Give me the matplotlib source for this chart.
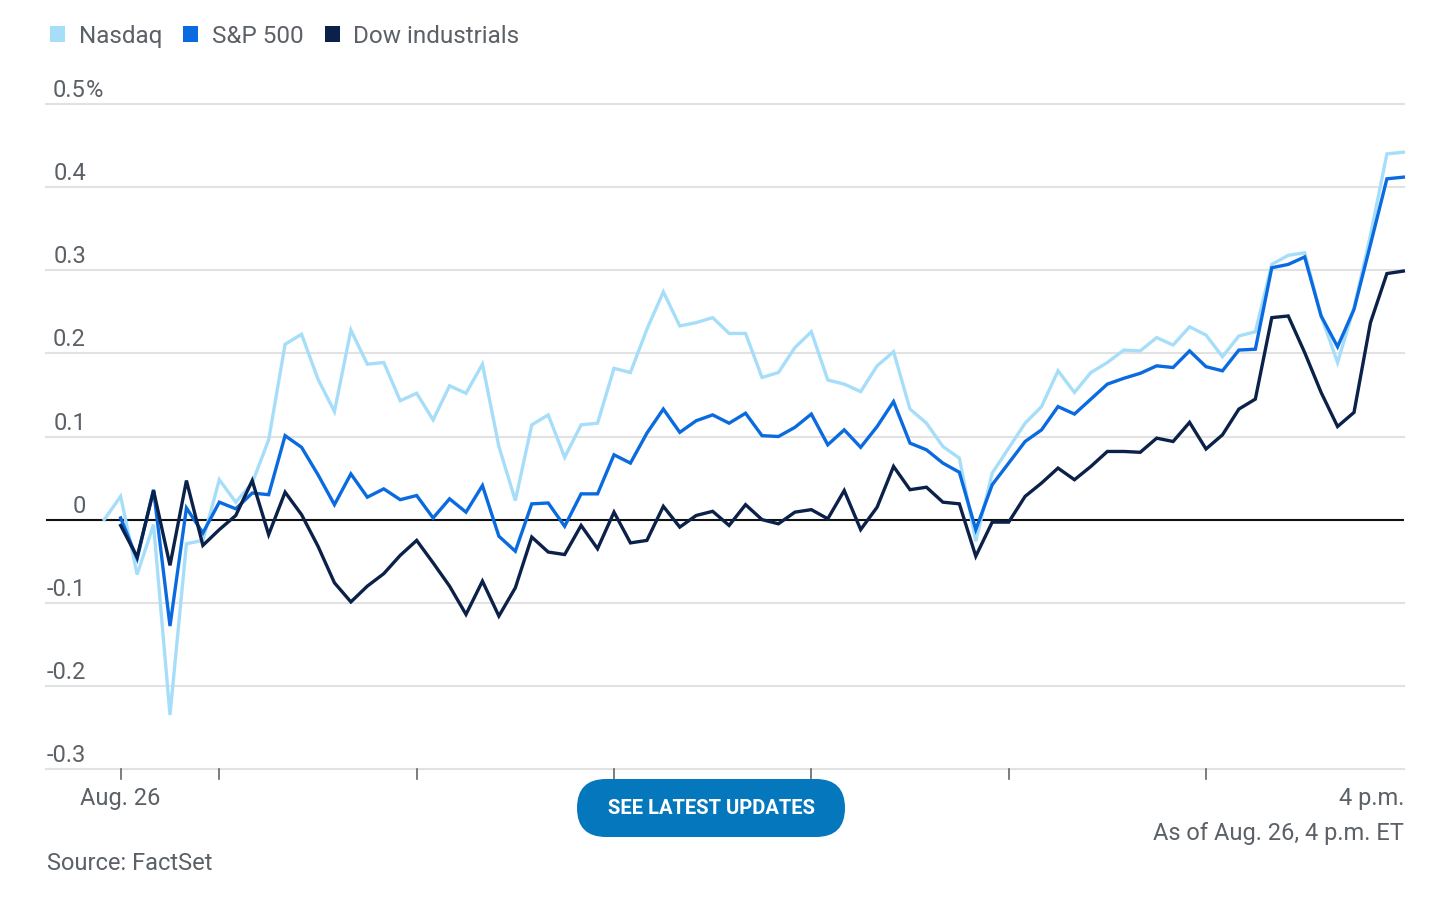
import matplotlib
matplotlib.use("Agg")
import matplotlib.pyplot as plt
from matplotlib.patches import FancyBboxPatch, Rectangle
from matplotlib.transforms import offset_copy
import numpy as np

plt.rcParams['font.family'] = ['Roboto', 'DejaVu Sans']

# ---- data (percent change, 5-minute steps; minute 0 = 9:30 a.m.) ----
nasdaq_minutes = list(range(-5, 391, 5))
nasdaq = [0.000, 0.028, -0.066, -0.006, -0.235, -0.029, -0.025, 0.048, 0.021, 0.044,
          0.096, 0.211, 0.223, 0.169, 0.130, 0.228, 0.187, 0.189, 0.143, 0.152,
          0.120, 0.161, 0.152, 0.187, 0.088, 0.023, 0.114, 0.126, 0.075, 0.114,
          0.116, 0.182, 0.177, 0.229, 0.274, 0.233, 0.237, 0.243, 0.224, 0.224,
          0.171, 0.177, 0.207, 0.226, 0.168, 0.163, 0.154, 0.185, 0.202, 0.133,
          0.116, 0.088, 0.074, -0.026, 0.056, 0.086, 0.116, 0.136, 0.179, 0.153,
          0.177, 0.189, 0.204, 0.203, 0.219, 0.210, 0.232, 0.222, 0.196, 0.221,
          0.226, 0.307, 0.318, 0.321, 0.245, 0.189, 0.255, 0.342, 0.440, 0.442]

minutes = list(range(0, 391, 5))
sp500 = [0.002, -0.047, 0.036, -0.128, 0.014, -0.016, 0.021, 0.013, 0.032, 0.030,
         0.101, 0.087, 0.054, 0.018, 0.055, 0.027, 0.037, 0.024, 0.029, 0.002,
         0.025, 0.009, 0.041, -0.020, -0.038, 0.019, 0.020, -0.008, 0.031, 0.031,
         0.078, 0.068, 0.104, 0.133, 0.105, 0.119, 0.126, 0.116, 0.128, 0.101,
         0.100, 0.111, 0.127, 0.090, 0.108, 0.087, 0.112, 0.142, 0.092, 0.084,
         0.068, 0.057, -0.012, 0.042, 0.068, 0.094, 0.108, 0.136, 0.127, 0.145,
         0.163, 0.170, 0.176, 0.185, 0.183, 0.203, 0.184, 0.179, 0.204, 0.205,
         0.303, 0.307, 0.316, 0.245, 0.208, 0.253, 0.331, 0.410, 0.412]
dow = [-0.007, -0.045, 0.035, -0.055, 0.047, -0.031, -0.012, 0.005, 0.047, -0.018,
       0.033, 0.006, -0.032, -0.076, -0.099, -0.080, -0.065, -0.043, -0.025, -0.052,
       -0.080, -0.114, -0.074, -0.116, -0.082, -0.021, -0.039, -0.042, -0.007, -0.035,
       0.009, -0.028, -0.025, 0.016, -0.009, 0.005, 0.010, -0.007, 0.018, 0.000,
       -0.005, 0.009, 0.012, 0.001, 0.035, -0.012, 0.015, 0.064, 0.036, 0.039,
       0.021, 0.019, -0.044, -0.003, -0.003, 0.028, 0.044, 0.062, 0.048, 0.064,
       0.082, 0.082, 0.081, 0.098, 0.094, 0.117, 0.085, 0.102, 0.133, 0.145,
       0.243, 0.245, 0.201, 0.153, 0.112, 0.129, 0.237, 0.296, 0.299]

series_names = ["Nasdaq", "S&P 500", "Dow industrials"]
series_colors = ["#a6defa", "#0a6be0", "#0b2149"]

ytick_values = [-0.3, -0.2, -0.1, 0, 0.1, 0.2, 0.3, 0.4, 0.5]
ytick_labels = ["-0.3", "-0.2", "-0.1", "0", "0.1", "0.2", "0.3", "0.4", "0.5"]
xtick_minutes = [0, 30, 90, 150, 210, 270, 330]

W, H = 1456, 898
fig = plt.figure(figsize=(W / 100, H / 100), dpi=100)
fig.patch.set_facecolor("white")

L, R, T, B = 46, 1404, 104, 769
ax = fig.add_axes([L / W, 1 - B / H, (R - L) / W, (B - T) / H])
ax.set_xlim(-22.7, 390.2)
ax.set_ylim(-0.3, 0.5)
for s in ax.spines.values():
    s.set_visible(False)
ax.set_xticks([])
ax.set_yticks([])

grid_color = "#e2e2e2"
for v in ytick_values:
    if v == 0:
        ax.axhline(0, color="#111111", lw=1.5, zorder=3)
    else:
        ax.axhline(v, color=grid_color, lw=1.5, zorder=1, clip_on=False)

ax.plot(nasdaq_minutes, nasdaq, color=series_colors[0], lw=2.4, zorder=4,
        solid_joinstyle="miter", clip_on=False)
ax.plot(minutes, sp500, color=series_colors[1], lw=2.4, zorder=5,
        solid_joinstyle="miter", clip_on=False)
ax.plot(minutes, dow, color=series_colors[2], lw=2.4, zorder=6,
        solid_joinstyle="miter", clip_on=False)

txt_color = "#5b6166"
FS = 17
# y labels
lab_x = (86 - L) / (R - L)
ytr = offset_copy(ax.get_yaxis_transform(), fig=fig, y=7, units="dots")
for v, lab in zip(ytick_values, ytick_labels):
    ax.text(lab_x, v, lab, transform=ytr, ha="right", va="baseline",
            fontsize=FS, color=txt_color, clip_on=False)
    if v == 0.5:
        ax.text(lab_x, v, "%", transform=ytr, ha="left", va="baseline",
                fontsize=FS, color=txt_color, clip_on=False)

# x tick marks
xtr = ax.get_xaxis_transform()
for m in xtick_minutes:
    ax.plot([m, m], [0, -10 / (B - T)], transform=xtr, color="#666666",
            lw=1.2, clip_on=False)

ax.text(0, -36 / (B - T), "Aug. 26", transform=xtr, ha="center", va="baseline",
        fontsize=FS, color=txt_color)
ax.text(390.2, -36 / (B - T), "4 p.m.", transform=xtr, ha="right", va="baseline",
        fontsize=FS, color=txt_color)

def fpt(x, y):
    return x / W, 1 - y / H

fig.text(*fpt(1404, 840), "As of Aug. 26, 4 p.m. ET", ha="right", va="baseline",
         fontsize=FS, color=txt_color)
fig.text(*fpt(47, 870), "Source: FactSet", ha="left", va="baseline",
         fontsize=FS, color=txt_color)

# legend
leg_x = [50, 183, 325]
txt_x = [79, 212, 353]
for name, col, sx, tx in zip(series_names, series_colors, leg_x, txt_x):
    fig.patches.append(Rectangle(fpt(sx, 42), 15 / W, 16 / H, transform=fig.transFigure,
                                 facecolor=col, edgecolor="none"))
    fig.text(*fpt(tx, 34), name, ha="left", va="center_baseline",
             fontsize=17.5, color=txt_color)

# button
btn = FancyBboxPatch((577 / 100, (H - 837) / 100), (845 - 577) / 100, 58 / 100,
                     boxstyle="round,pad=0,rounding_size=0.29",
                     transform=fig.dpi_scale_trans, facecolor="#0577bd",
                     edgecolor="none")
fig.patches.append(btn)
fig.text(*fpt(711, 809), "SEE LATEST UPDATES", ha="center", va="center",
         fontsize=14.5, fontweight="bold", color="white")

fig.savefig("out.png", dpi=100)
